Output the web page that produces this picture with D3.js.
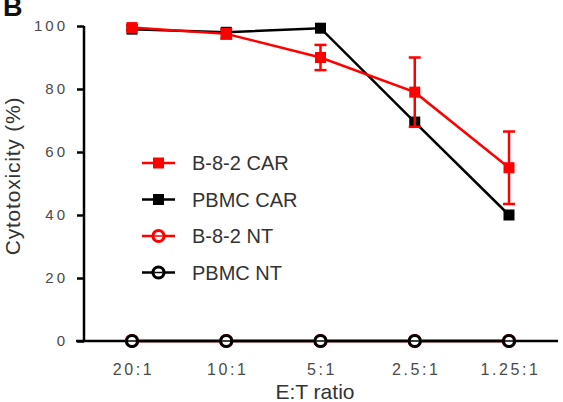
<!DOCTYPE html>
<html>
<head>
<meta charset="utf-8">
<script src="https://cdn.jsdelivr.net/npm/d3@7"></script>
<style>
  body { margin: 0; background: #fff; }
  text { font-family: "Liberation Sans", Arial, sans-serif; }
</style>
</head>
<body>
<svg id="chart" width="563" height="402"></svg>
<script>
// values
var ratios = ["20:1", "10:1", "5:1", "2.5:1", "1.25:1"];
var b82Car = [99.5, 97.5, 90, 79, 55];
var b82CarErr = [0.8, 1.5, 4, 11, 11.5];
var pbmcCar = [99, 98, 99.3, 69.5, 40];
var b82Nt = [0, 0, 0, 0, 0];
var pbmcNt = [0, 0, 0, 0, 0];
var yTicks = [0, 20, 40, 60, 80, 100];

var series = [
  { name: "B-8-2 CAR", values: b82Car, err: b82CarErr, color: "#ff0000", shape: "square" },
  { name: "PBMC CAR", values: pbmcCar, err: null, color: "#000000", shape: "square" },
  { name: "B-8-2 NT", values: b82Nt, err: null, color: "#ff0000", shape: "circle" },
  { name: "PBMC NT", values: pbmcNt, err: null, color: "#000000", shape: "circle" }
];

var svg = d3.select("#chart");
var axisX = 84, axisY = 341;

var x = d3.scalePoint().domain(ratios).range([132, 509]);
var y = d3.scaleLinear().domain([0, 100]).range([axisY, 26]);

// y axis
var yAxis = svg.append("g")
  .attr("transform", "translate(" + axisX + ",0)")
  .call(d3.axisLeft(y).tickValues(yTicks).tickSize(7).tickPadding(9));
yAxis.select(".domain").attr("d", "M0," + y(100) + "V" + axisY)
  .attr("stroke", "#000").attr("stroke-width", 2.5);
yAxis.selectAll(".tick line").attr("stroke", "#000").attr("stroke-width", 2.5);
yAxis.selectAll(".tick text")
  .attr("fill", "#4a4a4a").style("font-size", "15px").style("letter-spacing", "3px");

// x axis (baseline)
svg.append("line")
  .attr("x1", 76).attr("x2", 558)
  .attr("y1", axisY).attr("y2", axisY)
  .attr("stroke", "#000").attr("stroke-width", 2.5);
svg.append("g").selectAll("text").data(ratios).enter().append("text")
  .attr("x", function(d) { return x(d) + 1.5; })
  .attr("y", axisY + 34)
  .attr("text-anchor", "middle")
  .attr("fill", "#4a4a4a")
  .style("font-size", "16px")
  .style("letter-spacing", "2.6px")
  .text(function(d) { return d; });

// titles
svg.append("text")
  .attr("x", 315).attr("y", 399)
  .attr("text-anchor", "middle")
  .attr("fill", "#333")
  .style("font-size", "21px")
  .text("E:T ratio");
svg.append("text")
  .attr("transform", "translate(20,176) rotate(-90)")
  .attr("text-anchor", "middle")
  .attr("fill", "#333")
  .style("font-size", "21px")
  .style("letter-spacing", "0.8px")
  .text("Cytotoxicity (%)");
svg.append("text")
  .attr("x", 3).attr("y", 16)
  .attr("fill", "#111")
  .style("font-size", "27px").style("font-weight", "bold")
  .text("B");

var line = d3.line()
  .x(function(d, i) { return x(ratios[i]); })
  .y(function(d) { return y(d); });

function drawMarker(g, shape, color) {
  if (shape === "square") {
    g.append("rect").attr("x", -5.5).attr("y", -5.5).attr("width", 11).attr("height", 11)
      .attr("fill", color);
  } else {
    g.append("circle").attr("r", 5.5).attr("fill", "#fff")
      .attr("stroke", color).attr("stroke-width", 3.2);
    g.append("line").attr("x1", -4).attr("x2", 4).attr("y1", 0).attr("y2", 0)
      .attr("stroke", color).attr("stroke-width", 1.5);
  }
}

// draw order: NT first, then black CAR, red CAR on top
var drawOrder = [series[2], series[3], series[1], series[0]];
drawOrder.forEach(function(s) {
  var g = svg.append("g");
  g.append("path").datum(s.values)
    .attr("d", line).attr("fill", "none")
    .attr("stroke", s.color).attr("stroke-width", 2.5);
  if (s.err) {
    s.values.forEach(function(v, i) {
      var cx = x(ratios[i]), e = s.err[i];
      var eg = g.append("g").attr("stroke", s.color).attr("stroke-width", 2.5);
      eg.append("line").attr("x1", cx).attr("x2", cx).attr("y1", y(v + e)).attr("y2", y(v - e));
      eg.append("line").attr("x1", cx - 6).attr("x2", cx + 6).attr("y1", y(v + e)).attr("y2", y(v + e));
      eg.append("line").attr("x1", cx - 6).attr("x2", cx + 6).attr("y1", y(v - e)).attr("y2", y(v - e));
    });
  }
  s.values.forEach(function(v, i) {
    drawMarker(g.append("g").attr("transform", "translate(" + x(ratios[i]) + "," + y(v) + ")"), s.shape, s.color);
  });
});

// legend
var legend = svg.append("g");
series.forEach(function(s, i) {
  var ly = 163 + i * 36.5;
  var lg = legend.append("g").attr("transform", "translate(0," + ly + ")");
  lg.append("line").attr("x1", 142).attr("x2", 175).attr("y1", 0).attr("y2", 0)
    .attr("stroke", s.color).attr("stroke-width", 2.5);
  drawMarker(lg.append("g").attr("transform", "translate(158.5,0)"), s.shape, s.color);
  lg.append("text").attr("x", 192).attr("y", 7)
    .attr("fill", "#333").style("font-size", "20px")
    .text(s.name);
});
</script>
</body>
</html>
